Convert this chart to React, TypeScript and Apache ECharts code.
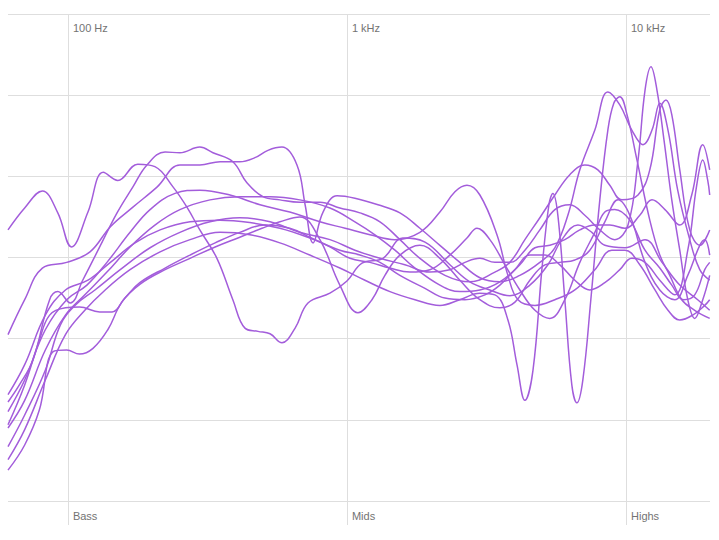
import React, { useEffect, useRef } from "react";
import * as echarts from "echarts";

// Frequency response curves: [frequency Hz, level dB]
const topTickValues = [100, 1000, 10000];
const topTickLabels = ["100 Hz", "1 kHz", "10 kHz"];
const bandLabels = ["Bass", "Mids", "Highs"];

const curve1 = [[61,3.4],[70,6.1],[81,8.2],[92,5.5],[103,1.3],[118,5.6],[134,10.5],[151,9.5],[178,11.5],[205,11.2],[238,8.7],[267,6.2],[297,3.4],[342,-0.1],[390,-5.2],[431,-8.7],[480,-9.1],[530,-9.4],[585,-10.5],[652,-8.7],[725,-5.6],[869,-4.4],[1000,-2.9],[1132,-0.7],[1346,-0.1],[1587,2.4],[1904,1.9],[2338,-0.9],[2758,-3.0],[3252,-4.0],[3836,-4.7],[4523,-3.4],[5250,-0.9],[5890,2.2],[6722,4.0],[7543,3.1],[8397,1.5],[9918,1.2],[11698,2.2],[13460,-0.6],[15584,-3.4],[18070,-5.2],[19950,-6.5]];
const curve2 = [[61,-9.5],[70,-5.2],[81,-1.3],[99,-0.6],[120,0.7],[142,3.8],[171,6.2],[209,8.7],[252,11.4],[297,11.4],[351,11.8],[413,11.8],[468,12.3],[521,13.2],[585,13.6],[662,11.4],[708,6.5],[756,1.8],[821,5.6],[922,7.6],[1068,7.3],[1292,6.5],[1548,5.5],[1826,3.6],[2153,1.5],[2539,-0.6],[2995,-2.5],[3532,-3.0],[4165,-2.2],[4912,-0.6],[5560,1.2],[6190,5.2],[6832,10.8],[7733,15.7],[8610,20.4],[9502,18.8],[10490,15.7],[11505,13.9],[12393,15.7],[13215,19.0],[14140,15.7],[15320,8.3],[16923,2.2],[18378,-1.5],[19950,-2.8]];
const curve3 = [[61,-17.8],[67,-15.7],[75,-12.6],[86,-5.2],[92,-4.2],[102,-5.6],[113,-2.8],[130,1.3],[150,5.5],[171,8.7],[192,11.4],[223,13.0],[252,12.9],[297,13.6],[331,12.9],[390,11.8],[438,9.2],[500,7.5],[575,7.1],[678,6.8],[800,6.8],[943,6.1],[1113,5.5],[1313,4.4],[1548,2.2],[1826,-0.1],[2245,-2.2],[2758,-3.0],[3390,-1.8],[3836,-0.6],[4342,2.2],[4912,4.9],[5560,7.7],[6291,10.2],[7117,11.4],[7929,10.8],[8749,8.9],[9664,7.1],[11043,7.7],[12169,10.8],[13215,18.2],[13908,19.4],[14590,17.6],[15584,10.8],[16923,3.4],[18378,1.5],[19950,3.4]];
const curve4 = [[61,-20.6],[70,-15.7],[79,-10.2],[86,-7.1],[98,-6.2],[110,-6.1],[130,-6.7],[144,-6.7],[160,-5.0],[181,-3.1],[223,-1.3],[274,0.3],[337,1.8],[413,3.1],[508,4.0],[624,3.6],[736,2.5],[869,1.3],[1025,-0.1],[1209,-0.6],[1426,-1.3],[1681,-1.8],[1983,-1.5],[2338,0.3],[2692,2.4],[2924,3.6],[3252,2.2],[3682,-0.9],[4165,-4.0],[4718,-6.5],[5335,-7.5],[6037,-5.2],[6832,-0.6],[7733,3.1],[8397,5.6],[9117,5.9],[10319,4.6],[11698,0.9],[13215,-1.3],[14590,-3.4],[16100,-5.2],[17630,-4.6],[19150,-1.5],[19950,-0.6]];
const curve5 = [[61,-26.2],[70,-23.1],[79,-18.8],[88.5,-11.6],[99,-11.4],[110,-11.9],[123,-11.2],[139,-8.9],[156,-5.5],[181,-3.3],[223,-1.5],[274,-0.1],[337,1.3],[413,2.5],[496,3.6],[575,4.4],[678,5.0],[800,2.2],[943,-3.4],[1095,-6.8],[1229,-5.2],[1368,-2.2],[1548,0.3],[1826,1.5],[2153,-0.1],[2539,-2.8],[2995,-5.2],[3532,-6.2],[4000,-5.5],[4523,-2.8],[5121,-0.9],[5793,-0.6],[6557,-0.3],[7419,0.9],[8397,4.4],[9362,7.1],[10319,5.2],[11698,-0.6],[13215,-4.0],[14950,-5.2],[16650,-2.2],[18378,1.5],[19150,2.2],[19950,0.3]];
const curve6 = [[61,-19.0],[70,-15.1],[83,-8.9],[99,-5.2],[117,-3.4],[138,-0.6],[167,3.1],[197,5.9],[242,7.9],[297,8.3],[381,7.7],[488,6.5],[624,5.6],[800,4.4],[985,3.6],[1209,2.8],[1486,2.2],[1826,3.1],[2153,5.6],[2438,8.1],[2692,8.9],[2995,7.7],[3448,2.8],[3775,-2.2],[4101,-5.2],[4718,-5.9],[5560,-5.2],[6557,-4.0],[7733,-1.5],[8893,0.9],[9918,0.9],[11206,-0.9],[12700,-4.0],[14140,-6.5],[15584,-7.7],[17340,-7.1],[19150,-5.9],[19950,-5.2]];
const curve7 = [[61,-21.0],[70,-17.6],[83,-11.4],[98,-7.1],[115,-4.6],[138,-1.8],[167,1.3],[205,4.0],[252,5.9],[323,7.1],[413,7.5],[530,7.5],[678,7.1],[869,6.1],[1068,4.4],[1260,2.8],[1486,0.9],[1753,-1.3],[2153,-3.4],[2539,-4.2],[2995,-4.0],[3532,-3.0],[4165,-0.9],[4718,1.2],[5335,1.5],[6037,2.2],[6832,3.4],[7733,4.0],[8749,4.0],[9918,3.6],[11206,5.2],[12393,7.1],[13793,5.9],[15584,4.0],[17200,7.7],[18840,13.9],[19950,10.8]];
const curve8 = [[61,-23.3],[70,-19.4],[83,-13.9],[94,-8.3],[106,-5.9],[125,-4.0],[154,-1.5],[197,1.2],[252,3.1],[323,4.4],[413,4.9],[530,4.4],[678,3.1],[869,2.2],[1068,0.9],[1313,-0.1],[1613,-0.9],[1983,-1.8],[2338,-1.5],[2647,-0.6],[2995,-0.1],[3390,-0.6],[3836,-0.6],[4342,0.9],[4912,3.4],[5560,5.9],[6291,6.5],[7117,5.2],[8057,3.4],[9117,2.2],[10166,4.0],[11043,12.0],[11698,20.6],[12290,23.5],[12914,20.6],[13680,14.5],[14590,7.1],[15584,0.9],[16650,-5.2],[17630,-7.5],[18840,-5.2],[19950,-2.2]];
const curve9 = [[61,-16.9],[70,-13.2],[83,-7.1],[98,-4.0],[118,-2.8],[142,-0.6],[174,1.8],[214,3.4],[274,4.4],[351,4.6],[449,4.3],[575,3.6],[736,2.4],[943,0.9],[1113,0.3],[1313,-0.6],[1548,-2.2],[1904,-3.8],[2245,-5.0],[2647,-5.2],[3122,-4.6],[3532,-3.4],[4000,-1.5],[4523,0.3],[5121,0.3],[5793,-0.9],[6557,-2.8],[7419,-4.0],[8397,-3.1],[9502,-1.5],[10490,-0.1],[11698,-0.6],[13215,-2.8],[14950,-4.6],[16650,0.9],[17920,8.9],[18840,12.0],[19630,9.5],[19950,7.7]];
const curve10 = [[61,-24.9],[70,-21.2],[83,-15.1],[98,-9.5],[115,-6.5],[136,-4.0],[167,-1.5],[214,0.7],[274,2.2],[351,3.1],[449,2.8],[575,1.8],[736,0.3],[943,-1.3],[1160,-2.8],[1426,-4.2],[1753,-5.2],[2153,-5.9],[2539,-5.2],[2995,-4.4],[3390,-4.6],[3775,-7.7],[4067,-13.2],[4342,-17.6],[4641,-13.9],[4995,-1.5],[5294,6.5],[5469,7.9],[5700,5.2],[6037,-5.2],[6395,-15.7],[6667,-17.9],[7003,-15.1],[7481,-5.2],[8057,7.1],[8610,15.7],[9042,19.0],[9502,19.8],[10083,17.6],[10950,12.0],[12169,4.6],[13215,0.3],[14350,-2.2],[15840,-5.2],[17630,-6.5],[19950,-7.5]];

const curves = [curve1, curve2, curve3, curve4, curve5, curve6, curve7, curve8, curve9, curve10];

const FREQ_MIN = 61;
const FREQ_MAX = 20000;
const LEVEL_MIN = -30;
const LEVEL_MAX = 30;
const LEVEL_STEP = 10;

const GRID_COLOR = "#dedede";
const LINE_COLOR = "#a35ddb";
const TEXT_COLOR = "#737373";
const FONT = "'Liberation Sans', Arial, sans-serif";

const GRID_TOP = 14;
const GRID_BOTTOM = 39;
const CHART_H = 540;

function labelFor(list: string[]) {
  return (v: number) => {
    const i = topTickValues.findIndex((t) => Math.abs(Math.log10(t) - Math.log10(v)) < 0.01);
    return i >= 0 ? list[i] : "";
  };
}

export default function App() {
  const ref = useRef<HTMLDivElement>(null);
  useEffect(() => {
    if (!ref.current) return;
    const chart = echarts.init(ref.current, undefined, { renderer: "svg" });
    const plotH = CHART_H - GRID_TOP - GRID_BOTTOM;
    chart.setOption({
      animation: false,
      backgroundColor: "#ffffff",
      grid: { left: 8, right: 9, top: GRID_TOP, bottom: GRID_BOTTOM, containLabel: false },
      xAxis: [
        {
          type: "log",
          logBase: 10,
          min: FREQ_MIN,
          max: FREQ_MAX,
          position: "bottom",
          axisLine: { show: false, onZero: false },
          axisTick: { show: false },
          axisLabel: {
            show: true,
            customValues: topTickValues,
            formatter: labelFor(bandLabels),
            align: "left",
            margin: 9,
            padding: [0, 0, 0, 5],
            color: TEXT_COLOR,
            fontSize: 11,
            fontFamily: FONT,
          },
          splitLine: { show: false },
        },
        {
          type: "log",
          logBase: 10,
          min: FREQ_MIN,
          max: FREQ_MAX,
          position: "top",
          axisLine: { show: false, onZero: false },
          axisTick: {
            show: true,
            inside: true,
            customValues: topTickValues,
            length: plotH + 24,
            lineStyle: { color: GRID_COLOR, width: 1 },
          },
          splitLine: { show: false },
          axisLabel: {
            show: true,
            inside: true,
            customValues: topTickValues,
            formatter: labelFor(topTickLabels),
            align: "left",
            margin: 8,
            padding: [0, 0, 0, 5],
            color: TEXT_COLOR,
            fontSize: 11,
            fontFamily: FONT,
          },
        },
      ],
      yAxis: {
        type: "value",
        min: LEVEL_MIN,
        max: LEVEL_MAX,
        interval: LEVEL_STEP,
        axisLine: { show: false },
        axisTick: { show: false },
        axisLabel: { show: false },
        splitLine: { show: true, lineStyle: { color: GRID_COLOR, width: 1 } },
      },
      series: curves.map((c, i) => ({
        name: "curve" + (i + 1),
        type: "line",
        xAxisIndex: 0,
        data: c,
        smooth: 0.4,
        showSymbol: false,
        symbol: "none",
        lineStyle: { color: LINE_COLOR, width: 1.5 },
        silent: true,
      })),
    });
    return () => chart.dispose();
  }, []);
  return (
    <div
      ref={ref}
      style={{ position: "fixed", left: 0, top: 0, width: 719, height: 540, background: "#fff" }}
    />
  );
}
